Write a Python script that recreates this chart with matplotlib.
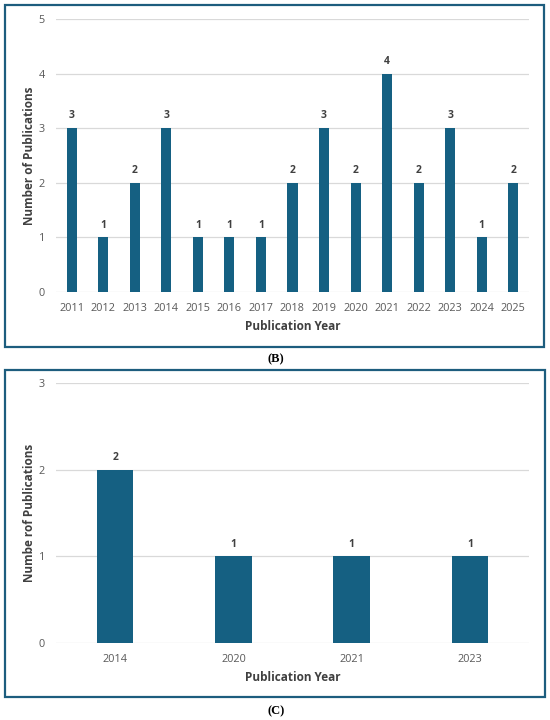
import matplotlib
matplotlib.use("Agg")
import matplotlib.pyplot as plt
from matplotlib.patches import Rectangle

# panel B data
years_b = ["2011", "2012", "2013", "2014", "2015", "2016", "2017", "2018",
           "2019", "2020", "2021", "2022", "2023", "2024", "2025"]
counts_b = [3, 1, 2, 3, 1, 1, 1, 2, 3, 2, 4, 2, 3, 1, 2]

# panel C data
years_c = ["2014", "2020", "2021", "2023"]
counts_c = [2, 1, 1, 1]

BAR = "#156082"
FRAME = "#1d5d7e"
TICK = "#595959"
LABEL = "#404040"

plt.rcParams["font.family"] = ["Open Sans", "DejaVu Sans"]

fig = plt.figure(figsize=(5.5, 7.2), dpi=100)


def px_rect(x0, y0, x1, y1):
    # rectangle given in pixel coords (top-left origin)
    return Rectangle((x0 / 550, 1 - y1 / 720), (x1 - x0) / 550, (y1 - y0) / 720,
                     transform=fig.transFigure, fill=False, edgecolor=FRAME,
                     linewidth=1.6, zorder=5)


def draw_panel(ax, cats, vals, ymax, ylabel, width):
    x = range(len(cats))
    ax.bar(x, vals, width=width, color=BAR, zorder=3)
    for xi, v in zip(x, vals):
        ax.text(xi, v + ymax * 0.025, str(v), ha="center", va="bottom",
                fontsize=7.5, fontweight="bold", color=LABEL)
    ax.set_xlim(-0.5, len(cats) - 0.5)
    ax.set_ylim(0, ymax)
    ax.set_yticks(range(ymax + 1))
    ax.set_xticks(list(x))
    ax.set_xticklabels(cats)
    ax.tick_params(length=0, labelsize=7.8, colors=TICK, pad=8)
    ax.tick_params(axis="y", pad=8)
    ax.yaxis.grid(True, color="#d9d9d9", linewidth=0.9, zorder=0)
    ax.set_axisbelow(True)
    for s in ax.spines.values():
        s.set_visible(False)
    ax.set_xlabel("Publication Year", fontsize=8.5, fontweight="bold",
                  color=LABEL, labelpad=4)
    ax.set_ylabel(ylabel, fontsize=8.5, fontweight="bold", color=LABEL)
    ax.yaxis.set_label_coords(-20 / 473, 0.5)


ax_b = fig.add_axes([56 / 550, 1 - 292 / 720, 473 / 550, 273 / 720])
draw_panel(ax_b, years_b, counts_b, 5, "Number of Publications", 0.32)

ax_c = fig.add_axes([56 / 550, 1 - 643 / 720, 473 / 550, 260 / 720])
draw_panel(ax_c, years_c, counts_c, 3, "Numbe rof Publications", 0.31)

fig.patches.append(px_rect(5, 5, 544, 347))
fig.patches.append(px_rect(5, 370, 545, 697))

fig.text(276 / 550, 1 - 359 / 720, "(B)", ha="center", va="center",
         fontsize=9, fontweight="bold", family="Liberation Serif", color="black")
fig.text(276 / 550, 1 - 711 / 720, "(C)", ha="center", va="center",
         fontsize=9, fontweight="bold", family="Liberation Serif", color="black")

fig.savefig("out.png", dpi=100)
